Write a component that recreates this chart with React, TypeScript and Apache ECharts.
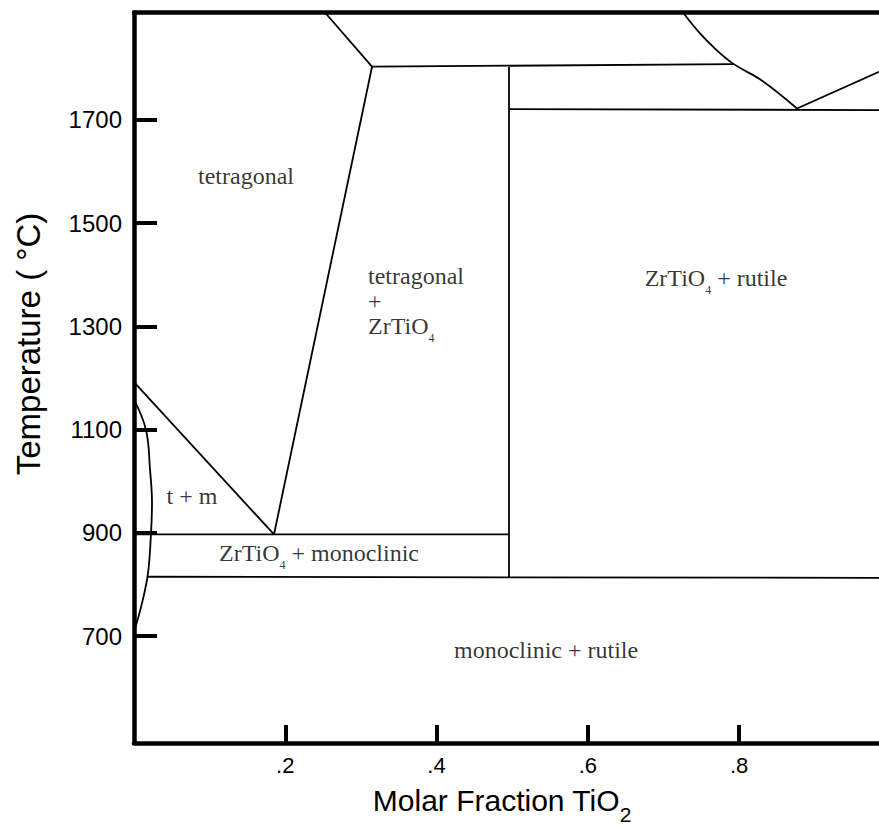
import React, { useEffect, useRef } from "react";
import * as echarts from "echarts";

// axis ranges and ticks
const xRange = [0, 0.985];
const yRange = [493, 1908];
const xTickValues = [0.2, 0.4, 0.6, 0.8];
const yTickValues = [700, 900, 1100, 1300, 1500, 1700];

// phase boundaries: [molar fraction TiO2, temperature °C]
const tetragonalLiquidus = [[0.2525, 1908], [0.3147, 1803]];
const zrtio4Upper = [[0.3147, 1803], [0.7931, 1808]];
const tetragonalSolvus = [[0.3147, 1803], [0.1851, 897]];
const zrtio4Line = [[0.4958, 1803], [0.4958, 814]];
const rutileUpper = [[0.4958, 1721], [0.985, 1719]];
const rightLiquidus = [[0.7259, 1908], [0.7457, 1872], [0.7682, 1838], [0.7931, 1808], [0.8304, 1776], [0.8766, 1722]];
const rutileLiquidus = [[0.8766, 1722], [0.985, 1793]];
const eutectoid = [[0, 897], [0.4958, 897]];
const monoclinicRutile = [[0.0172, 815], [0.985, 813]];
const tmBoundary = [[0, 1192], [0.1851, 897]];
const monoclinicSolvus = [[0, 1158], [0.0159, 1099], [0.0212, 1022], [0.0238, 958], [0.0225, 900], [0.0185, 822], [0.0106, 764], [0, 708]];

const straightBoundaries = [tetragonalLiquidus, zrtio4Upper, tetragonalSolvus, zrtio4Line, rutileUpper, rutileLiquidus, eutectoid, monoclinicRutile, tmBoundary];
const curvedBoundaries = [rightLiquidus, monoclinicSolvus];

// region labels
const regionTexts = [
  "{n|tetragonal}",
  "{n|tetragonal}\n{n|+}\n{n|ZrTiO}{s|4}",
  "{n|ZrTiO}{s|4}{n| + rutile}",
  "{n|t + m}",
  "{n|ZrTiO}{s|4}{n| + monoclinic}",
  "{n|monoclinic + rutile}",
];
const regionX = [0.1481, 0.3094, 0.7695, 0.0767, 0.2446, 0.5448];
const regionY = [1581, 1339, 1383, 960, 850, 662];
const regionAlign = ["center", "left", "center", "center", "center", "center"];

const SANS = "'Liberation Sans', Arial, sans-serif";
const SERIF = "'Liberation Serif', 'Times New Roman', serif";

export default function App() {
  const ref = useRef<HTMLDivElement>(null);
  useEffect(() => {
    if (!ref.current) return;
    const chart = echarts.init(ref.current, null, { renderer: "svg" });
    const lineStyle = { color: "#000", width: 1.8 };
    const series: any[] = [];
    straightBoundaries.forEach((d) =>
      series.push({ type: "line", data: d, symbol: "none", lineStyle, silent: true })
    );
    curvedBoundaries.forEach((d) =>
      series.push({ type: "line", data: d, symbol: "none", smooth: 0.4, lineStyle, silent: true })
    );
    series.push({
      type: "scatter",
      symbolSize: 1,
      itemStyle: { color: "rgba(0,0,0,0)" },
      silent: true,
      data: regionTexts.map((t, i) => ({
        value: [regionX[i], regionY[i]],
        label: {
          show: true,
          position: "inside",
          align: regionAlign[i],
          verticalAlign: "middle",
          formatter: t,
          rich: {
            n: { fontFamily: SERIF, fontSize: 24, color: "#000", lineHeight: 25, padding: [0, 0, 6, 0], verticalAlign: "bottom" },
            s: { fontFamily: SERIF, fontSize: 12, color: "#000", lineHeight: 12, verticalAlign: "bottom" },
          },
        },
      })),
    });

    chart.setOption({
      animation: false,
      grid: { left: 134, right: 0, top: 12.5, bottom: 88 },
      xAxis: [
        {
          type: "value",
          min: xRange[0],
          max: xRange[1],
          position: "bottom",
          splitLine: { show: false },
          axisLine: { show: true, lineStyle: { color: "#000", width: 4.5 } },
          axisTick: { show: true, inside: true, length: 18, lineStyle: { color: "#000", width: 4 }, customValues: xTickValues },
          axisLabel: {
            customValues: xTickValues,
            margin: 11,
            color: "#000",
            fontFamily: SANS,
            fontSize: 22,
            formatter: (v: number) => v.toFixed(1).slice(1),
          },
        },
        {
          type: "value",
          min: xRange[0],
          max: xRange[1],
          position: "top",
          splitLine: { show: false },
          axisLine: { show: true, lineStyle: { color: "#000", width: 4.5 } },
          axisTick: { show: false },
          axisLabel: { show: false },
        },
      ],
      yAxis: {
        type: "value",
        min: yRange[0],
        max: yRange[1],
        splitLine: { show: false },
        axisLine: { show: true, lineStyle: { color: "#000", width: 4.5 } },
        axisTick: { show: true, inside: true, length: 23, lineStyle: { color: "#000", width: 4 }, customValues: yTickValues },
        axisLabel: {
          customValues: yTickValues,
          margin: 12,
          color: "#000",
          fontFamily: SANS,
          fontSize: 24,
          formatter: (v: number) => String(v),
        },
      },
      graphic: [
        {
          type: "text",
          x: 28,
          y: 344,
          rotation: Math.PI / 2,
          style: {
            text: "Temperature ( °C)",
            font: `33px ${SANS}`,
            fill: "#000",
            textAlign: "center",
            textVerticalAlign: "middle",
          },
        },
        {
          type: "text",
          x: 502,
          y: 810,
          style: {
            text: "{m|Molar Fraction TiO}{s|2}",
            fill: "#000",
            textAlign: "center",
            textVerticalAlign: "middle",
            rich: {
              m: { fontFamily: SANS, fontSize: 30, fill: "#000", lineHeight: 30, padding: [0, 0, 10, 0], verticalAlign: "bottom" },
              s: { fontFamily: SANS, fontSize: 21, fill: "#000", lineHeight: 21, verticalAlign: "bottom" },
            },
          },
        },
      ],
      series,
    });
    return () => chart.dispose();
  }, []);
  return (
    <div
      ref={ref}
      style={{ position: "fixed", left: 0, top: 0, width: 879, height: 831, background: "#fff" }}
    />
  );
}
